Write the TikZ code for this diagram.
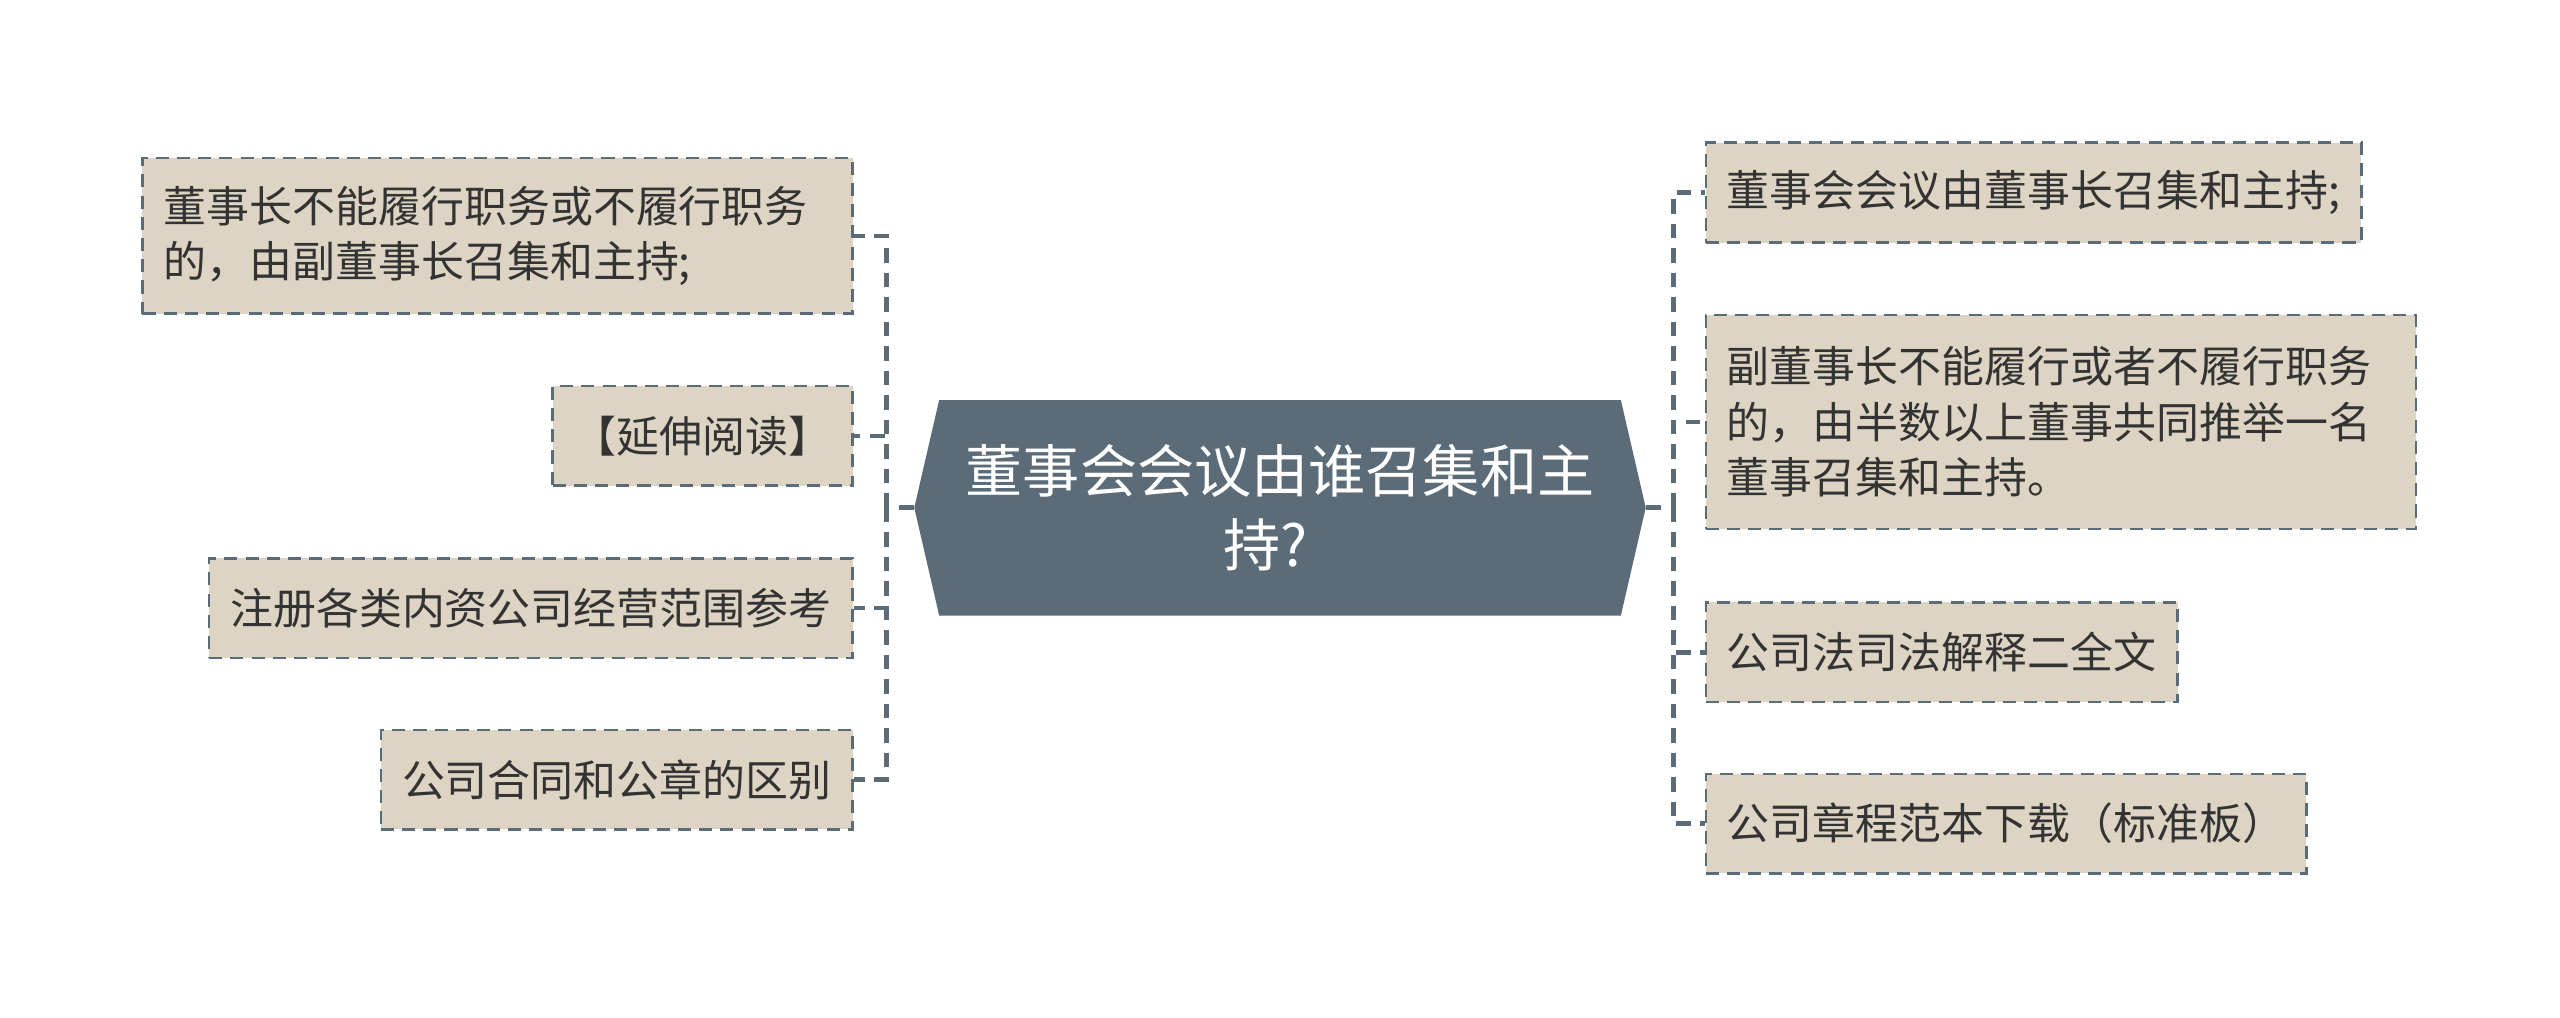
\documentclass[tikz,border=0pt]{standalone}
\usepackage{fontspec}
\setmainfont{Noto Sans CJK SC}
\usetikzlibrary{shapes.symbols}
\definecolor{slate}{HTML}{5B6B77}
\definecolor{sand}{HTML}{DDD4C4}
\definecolor{ink}{HTML}{333333}
\begin{document}
\begin{tikzpicture}[x=1pt,y=-1pt,
        leaf/.style={draw=slate,fill=sand,line width=1.5pt,dash pattern=on 8pt off 5pt,
            inner xsep=13pt,inner ysep=17pt,minimum height=61pt,align=left,text=ink,
            font=\fontsize{26.3}{34}\selectfont},
        link/.style={draw=slate,line width=2.8pt,dash pattern=on 9pt off 6pt},
        hub/.style={signal,signal to=west and east,signal pointer angle=154,fill=slate,
            minimum width=448pt,minimum height=132pt,text=white,align=center,
            font=\fontsize{35}{45}\selectfont}]
                \def\lx{523} \def\rx{1044}
                \def\jlx{543} \def\jrx{1025}
                \useasboundingbox (0,0) rectangle (1568,623);
                \node[hub] (c) at (784,311) {董事会会议由谁召集和主\\持?\hspace*{18pt}};
                %===========================================
                \node[leaf,anchor=east,text width=409pt,minimum height=95pt] (lA) at (\lx,144.5) {董事长不能履行职务或不履行职务\\的，由副董事长召集和主持;};
                \node[leaf,anchor=east] (lB) at (\lx,267) {【延伸阅读】};
                \node[leaf,anchor=east] (lC) at (\lx,372.5) {注册各类内资公司经营范围参考};
                \node[leaf,anchor=east] (lD) at (\lx,477.5) {公司合同和公章的区别};
                \node[leaf,anchor=west] (rA) at (\rx,118) {董事会会议由董事长召集和主持;};
                \node[leaf,anchor=west,text width=409pt,minimum height=131pt] (rB) at (\rx,258.5) {副董事长不能履行或者不履行职务\\的，由半数以上董事共同推举一名\\董事召集和主持。};
                \node[leaf,anchor=west] (rC) at (\rx,399.5) {公司法司法解释二全文};
                \node[leaf,anchor=west] (rD) at (\rx,504.5) {公司章程范本下载（标准板）};
                %===========================================
                \coordinate (jl) at (\jlx,311);
                \coordinate (jr) at (\jrx,311);
                \draw[link] (c.west)--(jl);
                \draw[link] (c.east)--(jr);
                \foreach \n in {lA,lB,lC,lD}
                    \draw[link] (jl)|-(\n.east);
                \foreach \n in {rA,rB,rC,rD}
                    \draw[link] (jr)|-(\n.west);
\end{tikzpicture}
\end{document}
